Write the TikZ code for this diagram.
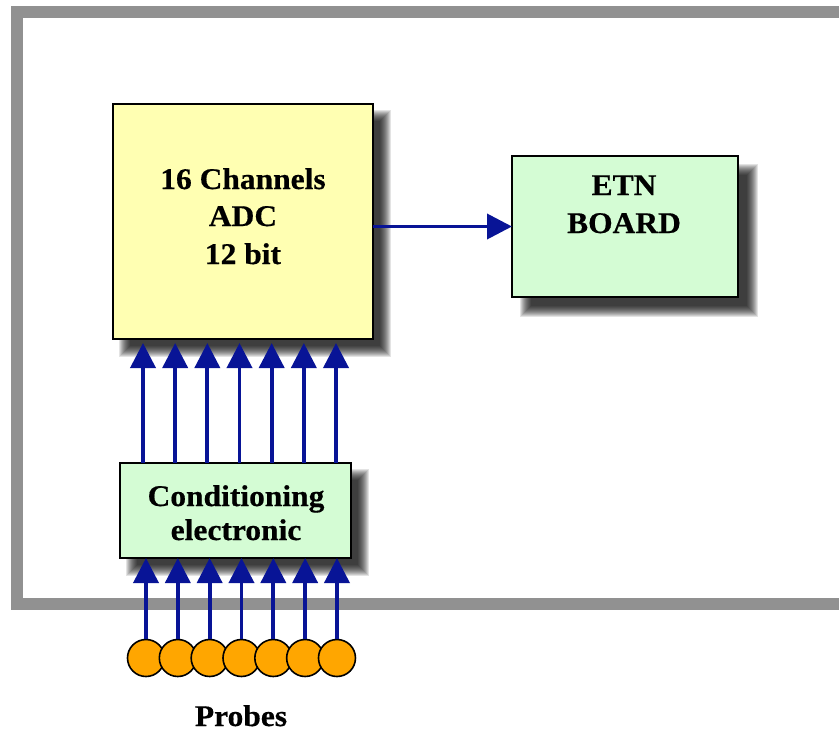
\documentclass[tikz,border=0pt]{standalone}
\usepackage{fontspec}
\newfontfamily\lblfont{Liberation Serif}[FakeStretch=1.05, FakeBold=0.5]
\usetikzlibrary{arrows.meta,calc}
\pgfdeclarelayer{background}
\pgfsetlayers{background,main}

\definecolor{adcyellow}{RGB}{255,255,178}
\definecolor{boardgreen}{RGB}{212,252,212}
\definecolor{sigblue}{RGB}{8,20,150}
\definecolor{probeorange}{RGB}{255,166,0}
\definecolor{framegray}{RGB}{145,145,145}

\tikzset{
  box/.style={draw=black, line width=1.6pt, inner sep=0pt, outer sep=0pt},
  lbl/.style={anchor=base, inner sep=0pt, font=\lblfont\bfseries\fontsize{30}{38}\selectfont},
  sig/.style={draw=sigblue, line width=3.8pt,
    -{Triangle[width=25pt,length=25pt]}, color=sigblue},
  probe/.style={circle, draw=black, line width=1.6pt, fill=probeorange,
    minimum size=37pt, inner sep=0pt},
  shadowlayer/.style={fill=black, opacity=0.11},
  frameline/.style={draw=framegray, line width=12pt, line join=miter}
}

% soft drop shadow behind a rectangular node: #1 node, #2 offset
\newcommand\softshadow[2]{%
  \foreach \e in {6,...,-5}{%
    \fill[shadowlayer] ($(#1.north west)+(#2-\e,#2-\e)$) rectangle ($(#1.south east)+(#2+\e,#2+\e)$);
  }%
}

\begin{document}
\begin{tikzpicture}[x=1pt, y=-1pt]
\useasboundingbox (0,0) rectangle (839,731);
\clip (0,0) rectangle (839,731);

% blocks
\node[box, fill=adcyellow, minimum width=260pt, minimum height=235pt] (adc) at (243,221.5) {};
\node[box, fill=boardgreen, minimum width=226pt, minimum height=141pt] (etn) at (625,226.5) {};
\node[box, fill=boardgreen, minimum width=231pt, minimum height=95pt] (cond) at (235.5,510.5) {};

% block labels
\node[lbl] (adc1) at (243,189) {16 Channels};
\node[lbl] (adc2) at (243,226) {ADC};
\node[lbl] (adc3) at (243,264) {12 bit};
\node[lbl] (etn1) at (624,195) {ETN};
\node[lbl] (etn2) at (624,233) {BOARD};
\node[lbl] (cond1) at (236,506) {Conditioning};
\node[lbl] (cond2) at (236,540) {electronic};
\node[lbl] (probes) at (241,726) {Probes};

% enclosure frame and shadows
\begin{pgfonlayer}{background}
  \draw[frameline] (880,12) -- (17,12) -- (17,604) -- (880,604);
  \softshadow{adc}{12}
  \softshadow{etn}{14}
  \softshadow{cond}{12}
\end{pgfonlayer}

% probes and their signal lines
\foreach \i in {1,...,7}{
  \node[probe] (p\i) at ({146+31.83*(\i-1)},658) {};
}
\foreach \i in {1,...,7}{
  \draw[sig] (p\i.north) -- (p\i |- cond.south);
}

% conditioned channels into the ADC
\foreach \i in {1,...,7}{
  \coordinate (u\i) at ({143+32.17*(\i-1)},0);
  \draw[sig, shorten >=4pt] (u\i |- cond.north) -- (u\i |- adc.south);
}

% ADC to board
\draw[sig] (adc.east |- etn.west) -- (etn.west);
\end{tikzpicture}
\end{document}
